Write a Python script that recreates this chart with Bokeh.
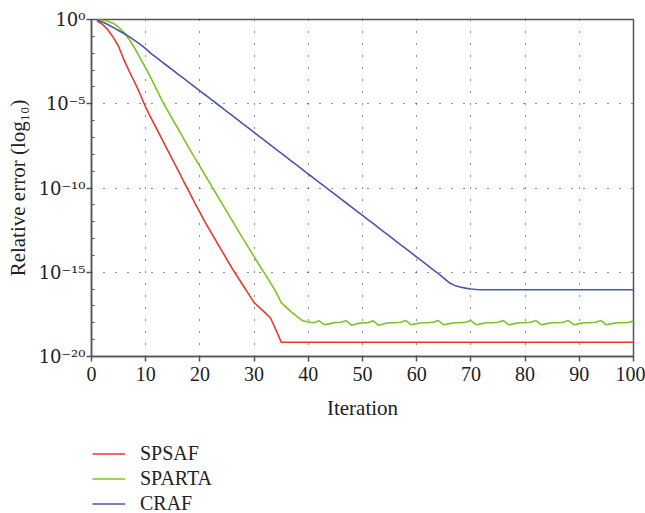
from bokeh.plotting import figure
from bokeh.layouts import column
from bokeh.models import FixedTicker, Legend, LegendItem
from bokeh.embed import file_html
from bokeh.resources import INLINE

# Iteration index and log10 of relative error for each method
iterations = list(range(1, 101))

spsaf = [-0.08, -0.28, -0.6, -1.05, -1.6, -2.4, -3.1, -3.75, -4.45, -5.22,
         -5.85, -6.48, -7.1, -7.72, -8.35, -8.97, -9.6, -10.22, -10.85, -11.45,
         -12.05, -12.6, -13.15, -13.7, -14.25, -14.8, -15.3, -15.8, -16.3, -16.8,
         -17.1, -17.4, -17.7, -18.4, -19.15, -19.15, -19.15, -19.15, -19.15, -19.15,
         -19.15, -19.15, -19.15, -19.15, -19.15, -19.15, -19.15, -19.15, -19.15, -19.15,
         -19.15, -19.15, -19.15, -19.15, -19.15, -19.15, -19.15, -19.15, -19.15, -19.15,
         -19.15, -19.15, -19.15, -19.15, -19.15, -19.15, -19.15, -19.15, -19.15, -19.15,
         -19.15, -19.15, -19.15, -19.15, -19.15, -19.15, -19.15, -19.15, -19.15, -19.15,
         -19.15, -19.15, -19.15, -19.15, -19.15, -19.15, -19.15, -19.15, -19.15, -19.15,
         -19.15, -19.15, -19.15, -19.15, -19.15, -19.15, -19.15, -19.15, -19.15, -19.15]

sparta = [0.0, -0.03, -0.1, -0.22, -0.45, -0.77, -1.2, -1.72, -2.3, -2.88,
          -3.5, -4.15, -4.8, -5.38, -5.95, -6.5, -7.07, -7.63, -8.18, -8.72,
          -9.26, -9.8, -10.34, -10.88, -11.42, -11.95, -12.5, -13.03, -13.55, -14.07,
          -14.6, -15.1, -15.62, -16.15, -16.8, -17.1, -17.4, -17.65, -17.88, -17.95,
          -18.0, -17.88, -18.12, -18.05, -17.98, -17.97, -17.88, -18.15, -18.05, -18.0,
          -17.99, -17.88, -18.15, -18.05, -18.0, -18.0, -17.97, -17.87, -18.12, -18.05,
          -18.0, -18.0, -17.97, -17.87, -18.12, -18.05, -18.0, -17.99, -17.97, -17.87,
          -18.12, -18.05, -18.0, -18.0, -17.97, -17.87, -18.12, -18.05, -18.0, -17.99,
          -17.97, -17.87, -18.12, -18.05, -18.0, -18.0, -17.97, -17.87, -18.12, -18.05,
          -18.0, -17.99, -17.97, -17.87, -18.12, -18.05, -18.0, -18.0, -17.98, -17.9]

craf = [-0.03, -0.15, -0.3, -0.47, -0.65, -0.83, -1.03, -1.25, -1.48, -1.73,
        -2.02, -2.26, -2.51, -2.76, -3.0, -3.25, -3.5, -3.74, -3.99, -4.24,
        -4.48, -4.73, -4.97, -5.22, -5.47, -5.71, -5.96, -6.21, -6.45, -6.7,
        -6.95, -7.19, -7.44, -7.69, -7.93, -8.18, -8.43, -8.67, -8.92, -9.17,
        -9.41, -9.66, -9.91, -10.15, -10.4, -10.65, -10.89, -11.14, -11.39, -11.63,
        -11.88, -12.12, -12.37, -12.62, -12.86, -13.11, -13.36, -13.6, -13.85, -14.1,
        -14.34, -14.59, -14.84, -15.08, -15.35, -15.62, -15.78, -15.88, -15.94, -15.99,
        -16.02, -16.04, -16.04, -16.04, -16.04, -16.04, -16.04, -16.04, -16.04, -16.04,
        -16.04, -16.04, -16.04, -16.04, -16.04, -16.04, -16.04, -16.04, -16.04, -16.04,
        -16.04, -16.04, -16.04, -16.04, -16.04, -16.04, -16.04, -16.04, -16.04, -16.04]

series_names = ["SPSAF", "SPARTA", "CRAF"]
series_colors = ["#E8392B", "#7CC520", "#4B55AA"]

x_ticks = [0, 10, 20, 30, 40, 50, 60, 70, 80, 90, 100]
x_grid_ticks = [10, 20, 30, 40, 50, 60, 70, 80, 90]
y_ticks = [-20, -15, -10, -5, 0]
y_tick_labels = ["10⁻²⁰", "10⁻¹⁵", "10⁻¹⁰", "10⁻⁵", "10⁰"]
y_minor_ticks = [-19, -18, -17, -16, -14, -13, -12, -11, -9, -8, -7, -6, -4, -3, -2, -1]
y_grid_ticks = [-15, -10, -5]

FONT = "Liberation Serif"
AX = "#555555"
TXT = "#222222"

MAIN_H = 426
LEG_H = 513 - MAIN_H

p = figure(width=645, height=MAIN_H, x_range=(0, 100), y_range=(-20, 0),
           output_backend="svg", toolbar_location=None,
           min_border_left=91, min_border_right=12, min_border_top=19,
           min_border_bottom=MAIN_H - 356)

p.background_fill_color = "white"
p.border_fill_color = "white"
p.outline_line_color = AX
p.outline_line_width = 1.5

for ys, c in zip([spsaf, sparta, craf], series_colors):
    p.line(iterations, ys, line_color=c, line_width=1.6)

# axes
p.xaxis.ticker = FixedTicker(ticks=x_ticks)
p.yaxis.ticker = FixedTicker(ticks=y_ticks, minor_ticks=y_minor_ticks)
p.yaxis.major_label_overrides = {t: l for t, l in zip(y_ticks, y_tick_labels)}

for ax in (p.xaxis, p.yaxis):
    ax.axis_line_color = AX
    ax.axis_line_width = 1.5
    ax.major_tick_line_color = AX
    ax.major_tick_line_width = 1.5
    ax.minor_tick_line_color = AX
    ax.minor_tick_line_width = 1.2
    ax.major_label_text_font = FONT
    ax.major_label_text_font_size = "20px"
    ax.major_label_text_color = TXT
    ax.axis_label_text_font = FONT
    ax.axis_label_text_font_size = "21px"
    ax.axis_label_text_font_style = "normal"
    ax.axis_label_text_color = TXT

p.xaxis.axis_label = "Iteration"
p.xaxis.major_tick_out = 5
p.xaxis.major_tick_in = 0
p.xaxis.minor_tick_out = 0
p.xaxis.minor_tick_in = 0
p.xaxis.major_label_standoff = 5
p.xaxis.axis_label_standoff = 12

p.yaxis.axis_label = "Relative error (log₁₀)"
p.yaxis.major_label_text_font = "DejaVu Serif"
p.yaxis.major_label_text_font_size = "18px"
p.yaxis.major_tick_out = 5
p.yaxis.major_tick_in = 0
p.yaxis.minor_tick_out = 0
p.yaxis.minor_tick_in = 3
p.yaxis.major_label_standoff = 1
p.yaxis.axis_label_standoff = 6

# grid
p.xgrid.ticker = FixedTicker(ticks=x_grid_ticks)
p.ygrid.ticker = FixedTicker(ticks=y_grid_ticks)
for g in (p.xgrid, p.ygrid):
    g.grid_line_color = TXT
    g.grid_line_width = 1
    g.grid_line_dash = "1 11"

# legend panel below the chart
pl = figure(width=645, height=LEG_H, x_range=(0, 1), y_range=(0, 1),
            output_backend="svg", toolbar_location=None,
            x_axis_type=None, y_axis_type=None,
            min_border_left=0, min_border_right=0, min_border_top=0, min_border_bottom=0)
pl.outline_line_color = None
pl.background_fill_color = "white"
pl.border_fill_color = "white"
pl.grid.visible = False

nan = float("nan")
items = []
for n, c in zip(series_names, series_colors):
    r = pl.line(x=[nan], y=[nan], line_color=c, line_width=1.5)
    items.append(LegendItem(label=n, renderers=[r]))

legend = Legend(items=items, location=(1, -3))
legend.label_text_font = FONT
legend.label_text_font_size = "20px"
legend.label_text_color = TXT
legend.glyph_width = 33
legend.glyph_height = 25
legend.label_height = 25
legend.spacing = 0
legend.padding = 0
legend.margin = 0
legend.label_standoff = 15
legend.border_line_color = None
legend.background_fill_alpha = 0
pl.add_layout(legend, "center")

layout = column(p, pl, spacing=0)

open("out.html", "w").write(file_html(layout, INLINE))
